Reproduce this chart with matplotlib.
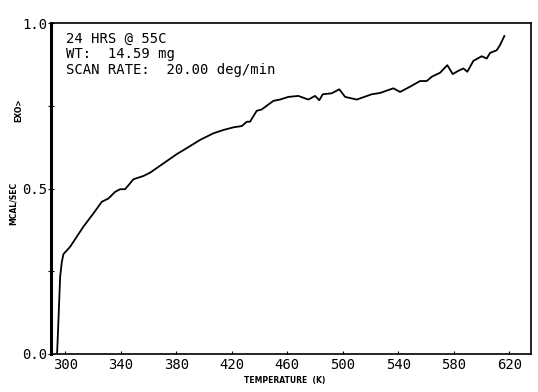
import matplotlib.pyplot as plt

# DSC scan, heat flow vs temperature
temp_k = [294.2, 295.2, 296.4, 297.6, 298.8, 303.6, 313.2, 320.4, 326.4, 331.2,
          336.0, 339.6, 343.2, 349.2, 356.4, 361.2, 370.8, 380.4, 385.2, 397.2,
          406.8, 414.0, 421.2, 427.3, 430.9, 433.2, 438.0, 441.6, 450.0, 454.8,
          460.8, 468.0, 475.2, 480.0, 483.1, 485.6, 492.1, 497.5, 501.7, 510.1,
          514.8, 520.9, 526.9, 536.4, 541.3, 548.5, 555.7, 560.5, 564.1, 570.1,
          575.3, 579.2, 583.3, 586.9, 589.7, 594.1, 600.1, 603.7, 606.1, 610.9,
          613.3, 616.4]
heat_flow = [0.0, 0.103, 0.233, 0.278, 0.302, 0.324, 0.385, 0.425, 0.460, 0.470,
             0.490, 0.498, 0.498, 0.528, 0.538, 0.548, 0.576, 0.604, 0.616, 0.647,
             0.667, 0.677, 0.685, 0.689, 0.702, 0.702, 0.735, 0.739, 0.765, 0.769,
             0.777, 0.780, 0.769, 0.780, 0.767, 0.785, 0.788, 0.800, 0.777, 0.769,
             0.776, 0.785, 0.789, 0.803, 0.792, 0.808, 0.825, 0.825, 0.838, 0.850,
             0.873, 0.846, 0.856, 0.863, 0.853, 0.886, 0.900, 0.893, 0.910, 0.918,
             0.934, 0.961]

x_ticks = [300, 340, 380, 420, 460, 500, 540, 580, 620]
y_ticks = [0.0, 0.25, 0.5, 0.75, 1.0]
y_labels = ['0.0', '', '0.5', '', '1.0']

info = ['24 HRS @ 55C', 'WT:  14.59 mg', 'SCAN RATE:  20.00 deg/min']

mono = 'DejaVu Sans Mono'

fig = plt.figure(figsize=(5.38, 3.92), dpi=100)
ax = fig.add_axes([0.095, 0.097, 0.892, 0.844])

ax.plot(temp_k, heat_flow, color='black', lw=1.3)

ax.set_xlim(289.9, 635.6)
ax.set_ylim(0, 1.0)
ax.set_xticks(x_ticks)
ax.set_xticklabels([str(t) for t in x_ticks], family=mono, fontsize=10)
ax.set_yticks(y_ticks)
ax.set_yticklabels(y_labels, family=mono, fontsize=10)
ax.tick_params(axis='x', direction='in', length=2, pad=3)
ax.tick_params(axis='y', direction='inout', length=4, pad=1)

for side in ['top', 'right', 'bottom']:
    ax.spines[side].set_linewidth(1.2)
ax.spines['left'].set_linewidth(2.2)

ax.text(0.03, 0.975, '\n'.join(info), transform=ax.transAxes, family=mono,
        fontsize=10, va='top', ha='left', linespacing=1.15)

fig.text(0.53, 0.018, 'TEMPERATURE  (K)', fontsize=5.5, weight='bold',
         ha='center', va='bottom')
fig.text(0.024, 0.48, 'MCAL/SEC', fontsize=5.5, weight='bold', rotation=90,
         ha='center', va='center')
fig.text(0.034, 0.72, 'EXO>', fontsize=5.5, weight='bold', rotation=90,
         ha='center', va='center')

fig.savefig('out.png', dpi=100)
